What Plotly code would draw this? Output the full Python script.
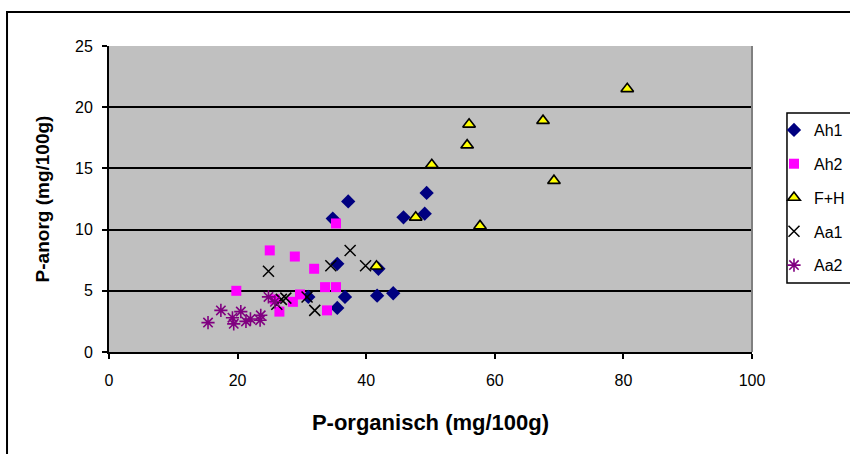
import plotly.graph_objects as go

# Data (P-organisch x, P-anorg y) per horizon
ah1_x = [34.8, 37.2, 45.8, 49.4, 49.1, 35.5, 41.9, 36.7, 41.7, 44.2, 35.5, 31.0]
ah1_y = [10.9, 12.3, 11.0, 13.0, 11.3, 7.2, 6.8, 4.5, 4.6, 4.8, 3.6, 4.5]

ah2_x = [35.3, 25.0, 28.9, 31.9, 19.8, 33.6, 35.3, 29.7, 28.6, 26.5, 33.9, 25.8]
ah2_y = [10.5, 8.3, 7.8, 6.8, 5.0, 5.3, 5.3, 4.7, 4.1, 3.3, 3.4, 4.3]

fh_x = [80.6, 56.0, 67.5, 55.7, 50.2, 69.2, 47.7, 57.7, 41.6]
fh_y = [21.5, 18.6, 18.9, 16.9, 15.3, 14.0, 11.0, 10.3, 7.0]

aa1_x = [24.8, 37.5, 34.5, 39.9, 27.5, 26.1, 26.8, 30.8, 32.0]
aa1_y = [6.6, 8.3, 7.05, 7.05, 4.4, 3.9, 4.3, 4.5, 3.4]

aa2_x = [15.4, 17.4, 19.2, 19.4, 20.5, 21.3, 22.0, 23.5, 23.6, 24.8, 25.8]
aa2_y = [2.4, 3.4, 2.8, 2.3, 3.3, 2.5, 2.7, 2.6, 3.0, 4.5, 4.1]

x_ticks = [0, 20, 40, 60, 80, 100]
y_ticks = [0, 5, 10, 15, 20, 25]

fig = go.Figure()
fig.add_trace(go.Scatter(x=ah1_x, y=ah1_y, mode="markers", name="Ah1", legendgroup="a",
                         marker=dict(symbol="diamond", size=11, color="#000080",
                                     line=dict(width=0))))
fig.add_trace(go.Scatter(x=ah2_x, y=ah2_y, mode="markers", name="Ah2", legendgroup="b",
                         marker=dict(symbol="square", size=10, color="#FF00FF",
                                     line=dict(width=0))))
fig.add_trace(go.Scatter(x=fh_x, y=fh_y, mode="markers", name="F+H", legendgroup="c",
                         marker=dict(symbol="triangle-up", size=11, color="#FFFF00",
                                     line=dict(width=1.6, color="black"))))
fig.add_trace(go.Scatter(x=aa1_x, y=aa1_y, mode="markers", name="Aa1", legendgroup="d",
                         marker=dict(symbol="x-thin", size=11, color="black",
                                     line=dict(width=1.5, color="black"))))
fig.add_trace(go.Scatter(x=aa2_x, y=aa2_y, mode="markers", name="Aa2", legendgroup="e",
                         marker=dict(symbol="asterisk", size=11, color="#800080",
                                     line=dict(width=1.6, color="#800080"))))

font = "Arial, Liberation Sans, sans-serif"
fig.update_layout(
    width=850, height=454,
    margin=dict(l=109, r=98, t=46, b=102, autoexpand=False),
    paper_bgcolor="white",
    plot_bgcolor="#C0C0C0",
    font=dict(family=font, size=16, color="black"),
    showlegend=True,
    legend=dict(x=1.0342, y=0.781, xanchor="left", yanchor="top",
                bgcolor="rgba(0,0,0,0)", borderwidth=0,
                font=dict(size=16, family=font), tracegroupgap=10,
                itemwidth=30),
    xaxis=dict(range=[0, 100], tickvals=x_ticks, ticks="outside", ticklen=5,
               tickwidth=1.5, tickcolor="black", showgrid=False, zeroline=False,
               showline=True, linecolor="black", linewidth=2,
               ticklabelstandoff=8,
               title=dict(text="<b>P-organisch (mg/100g)</b>", font=dict(size=22),
                          standoff=26)),
    yaxis=dict(range=[0, 25], tickvals=y_ticks, ticks="outside", ticklen=5,
               tickwidth=1.5, tickcolor="black", showgrid=True, gridcolor="black",
               gridwidth=2, zeroline=False, showline=True, linecolor="black",
               linewidth=2, ticklabelstandoff=6,
               title=dict(text="<b>P-anorg (mg/100g)</b>", font=dict(size=19),
                          standoff=20)),
)

# plot-area right edge (gray), legend box and outer chart frame
fig.add_shape(type="line", xref="paper", yref="paper", x0=1, x1=1, y0=0, y1=1,
              line=dict(color="#808080", width=2))
fig.add_shape(type="rect", xref="paper", yref="paper", x0=1.0544, x1=1.2,
              y0=0.2255, y1=0.781, line=dict(color="black", width=1.5),
              fillcolor="white", layer="above")
fig.add_shape(type="rect", xref="paper", yref="paper", x0=-0.1586, x1=1.25,
              y0=-0.4, y1=1.111, line=dict(color="black", width=2),
              fillcolor="rgba(0,0,0,0)", layer="below")

fig.write_html("out.html")
